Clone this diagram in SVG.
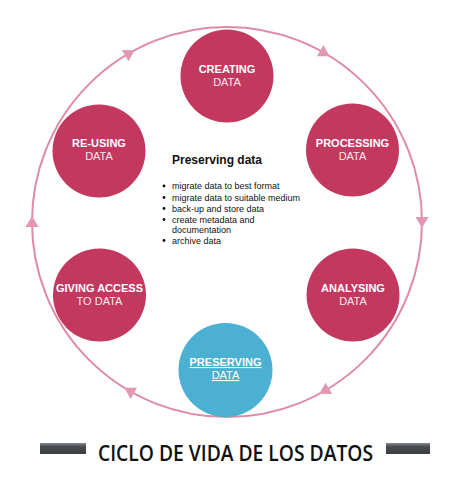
<svg xmlns="http://www.w3.org/2000/svg" width="473" height="500" viewBox="0 0 473 500">
<defs>
<style>
.node{fill:#c3385f}
.blue{fill:#4bb0d2}
.t1{font-family:"Liberation Sans",Arial,sans-serif;font-size:11px;font-weight:bold;fill:#fff;text-anchor:middle}
.t2{font-family:"Liberation Sans",Arial,sans-serif;font-size:11px;fill:#fbe8ee;text-anchor:middle}
.ring{fill:none;stroke:#de8aa8;stroke-width:2}
.ah{fill:#e397b3}
.body{font-family:"Liberation Sans",Arial,sans-serif;font-size:9px;fill:#111}
</style>
<linearGradient id="bar" x1="0" y1="0" x2="0" y2="1">
<stop offset="0" stop-color="#8a8d90"/>
<stop offset="0.3" stop-color="#4a4d51"/>
<stop offset="1" stop-color="#3a3c40"/>
</linearGradient>
</defs>
<rect width="473" height="500" fill="#fff"/>
<g id="connectors">
<circle class="ring" cx="227" cy="222" r="195"/>
<g class="ah">
<polygon points="-5,-6.5 6,0 -5,6.5" transform="translate(227,222) rotate(-60) translate(195,0) rotate(90)"/>
<polygon points="-5,-6.5 6,0 -5,6.5" transform="translate(227,222) rotate(0) translate(195,0) rotate(90)"/>
<polygon points="-5,-6.5 6,0 -5,6.5" transform="translate(227,222) rotate(60) translate(195,0) rotate(90)"/>
<polygon points="-5,-6.5 6,0 -5,6.5" transform="translate(227,222) rotate(120) translate(195,0) rotate(90)"/>
<polygon points="-5,-6.5 6,0 -5,6.5" transform="translate(227,222) rotate(180) translate(195,0) rotate(90)"/>
<polygon points="-5,-6.5 6,0 -5,6.5" transform="translate(227,222) rotate(240) translate(195,0) rotate(90)"/>
</g>
</g>
<g id="creating">
<circle class="node" cx="227" cy="76" r="46.5"/>
<text class="t1" x="227" y="73">CREATING</text>
<text class="t2" x="227" y="86">DATA</text>
</g>
<g id="processing">
<circle class="node" cx="352.5" cy="150" r="46.5"/>
<text class="t1" x="352.5" y="147">PROCESSING</text>
<text class="t2" x="352.5" y="160">DATA</text>
</g>
<g id="analysing">
<circle class="node" cx="353" cy="295" r="46.5"/>
<text class="t1" x="353" y="292">ANALYSING</text>
<text class="t2" x="353" y="305">DATA</text>
</g>
<g id="preserving">
<circle class="blue" cx="225.5" cy="370" r="47"/>
<text class="t1" x="225.5" y="366" text-decoration="underline">PRESERVING</text>
<text class="t2" x="225.5" y="379" text-decoration="underline" style="fill:#fff">DATA</text>
</g>
<g id="giving-access">
<circle class="node" cx="99.5" cy="295" r="46.5"/>
<text class="t1" x="99.5" y="292">GIVING ACCESS</text>
<text class="t2" x="99.5" y="305">TO DATA</text>
</g>
<g id="re-using">
<circle class="node" cx="99" cy="151" r="46.5"/>
<text class="t1" x="99" y="147">RE-USING</text>
<text class="t2" x="99" y="160">DATA</text>
</g>
<g id="info">
<text x="172" y="164" style="font-family:'Liberation Sans',Arial,sans-serif;font-size:12px;font-weight:bold;fill:#111">Preserving data</text>
<g class="body">
<circle cx="164" cy="186" r="1.4" fill="#111"/>
<text x="172" y="189">migrate data to best format</text>
<circle cx="164" cy="197.5" r="1.4" fill="#111"/>
<text x="172" y="200.5">migrate data to suitable medium</text>
<circle cx="164" cy="208.5" r="1.4" fill="#111"/>
<text x="172" y="211.5">back-up and store data</text>
<circle cx="164" cy="219.5" r="1.4" fill="#111"/>
<text x="172" y="222.5">create metadata and</text>
<text x="172" y="233">documentation</text>
<circle cx="164" cy="240.5" r="1.4" fill="#111"/>
<text x="172" y="243.5">archive data</text>
</g>
</g>
<g id="title">
<rect x="40" y="443" width="46" height="11" fill="url(#bar)"/>
<rect x="386" y="443" width="44" height="11" fill="url(#bar)"/>
<text x="98" y="461" textLength="275" lengthAdjust="spacingAndGlyphs" style="font-family:'Open Sans','Liberation Sans',sans-serif;font-size:21px;font-weight:600;fill:#111">CICLO DE VIDA DE LOS DATOS</text>
</g>
</svg>
